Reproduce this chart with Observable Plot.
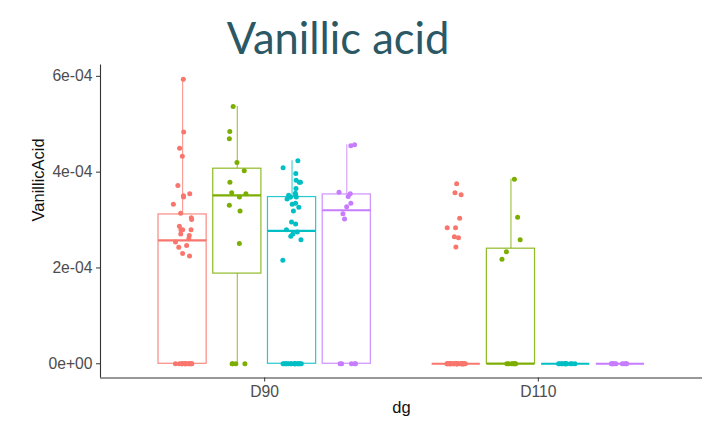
<!DOCTYPE html>
<html><head><meta charset="utf-8">
<script src="https://cdn.jsdelivr.net/npm/d3@7"></script>
<script src="https://cdn.jsdelivr.net/npm/@observablehq/plot@0.6"></script>
<style>
body{margin:0;background:#fff;}
#title{height:60px;box-sizing:border-box;padding-top:16.4px;line-height:43.5px;font-family:Lato,"Open Sans",sans-serif;font-size:43.5px;color:#2B5865;width:676px;text-align:center;white-space:nowrap;}
</style></head><body>
<div id="title">Vanillic acid</div>
<div id="chart"></div>
<script>
// categories
const dgLevels = ["D90", "D110"];
const groupLevels = ["A", "B", "C", "D"];
const groupColors = ["#F8766D", "#7CAE00", "#00BFC4", "#C77CFF"];
// y tick labels
const yTicks = [0, 2e-4, 4e-4, 6e-4];
const yTickLabels = ["0e+00", "2e-04", "4e-04", "6e-04"];
const xLabel = "dg";
const yLabel = "VanillicAcid";

// series values
const D90_A = [5.94e-4, 4.84e-4, 4.50e-4, 4.33e-4, 3.72e-4, 3.55e-4, 3.51e-4, 3.48e-4, 3.33e-4, 3.14e-4, 3.05e-4, 3.01e-4,
  2.87e-4, 2.80e-4, 2.80e-4, 2.80e-4, 2.71e-4, 2.68e-4, 2.61e-4, 2.54e-4, 2.47e-4, 2.43e-4, 2.30e-4, 2.25e-4,
  0, 0, 0, 0, 0, 0, 0, 0, 0, 0, 0, 0, 0, 0];
const D90_B = [5.37e-4, 4.85e-4, 4.70e-4, 4.20e-4, 4.03e-4, 3.79e-4, 3.57e-4, 3.55e-4, 3.48e-4, 3.31e-4, 3.19e-4, 2.51e-4,
  0, 0, 0, 0];
const D90_C = [4.24e-4, 4.09e-4, 3.97e-4, 3.83e-4, 3.79e-4, 3.79e-4, 3.66e-4, 3.56e-4, 3.52e-4, 3.52e-4, 3.48e-4, 3.48e-4,
  3.48e-4, 3.44e-4, 3.35e-4, 3.33e-4, 3.27e-4, 3.19e-4, 2.96e-4, 2.92e-4, 2.80e-4, 2.75e-4, 2.71e-4, 2.66e-4, 2.59e-4, 2.16e-4,
  0, 0, 0, 0, 0, 0, 0, 0, 0, 0, 0, 0, 0, 0, 0, 0];
const D90_D = [4.57e-4, 4.55e-4, 3.58e-4, 3.55e-4, 3.49e-4, 3.35e-4, 3.28e-4, 3.13e-4, 3.02e-4, 0, 0, 0, 0, 0];
const D110_A = [3.76e-4, 3.57e-4, 3.53e-4, 3.04e-4, 2.84e-4, 2.84e-4, 2.65e-4, 2.63e-4, 2.44e-4,
  0, 0, 0, 0, 0, 0, 0, 0, 0, 0, 0, 0, 0, 0, 0, 0, 0, 0, 0, 0, 0, 0, 0, 0, 0, 0, 0, 0, 0, 0];
const D110_B = [3.85e-4, 3.06e-4, 2.59e-4, 2.34e-4, 2.18e-4, 0, 0, 0, 0, 0, 0, 0];
const D110_C = [0, 0, 0, 0, 0, 0, 0, 0, 0, 0, 0, 0];
const D110_D = [0, 0, 0, 0, 0, 0, 0, 0, 0, 0];

const seriesTable = [
  ["D90", "A", D90_A], ["D90", "B", D90_B], ["D90", "C", D90_C], ["D90", "D", D90_D],
  ["D110", "A", D110_A], ["D110", "B", D110_B], ["D110", "C", D110_C], ["D110", "D", D110_D]
];

// dodge layout (in x-scale units)
const groupStep = 5, halfBox = 0.44, jitterW = 0.17;
const center = (dg, g) => dgLevels.indexOf(dg) * groupStep + (groupLevels.indexOf(g) - (groupLevels.length - 1) / 2);

const rand = d3.randomLcg(0.3141);
const points = [];
const stats = [];
for (const [dg, g, vals] of seriesTable) {
  const cx = center(dg, g);
  const s = vals.slice().sort(d3.ascending);
  const q1 = d3.quantileSorted(s, 0.25), med = d3.quantileSorted(s, 0.5), q3 = d3.quantileSorted(s, 0.75);
  const iqr = q3 - q1;
  const lo = d3.min(s.filter(v => v >= q1 - 1.5 * iqr));
  const hi = d3.max(s.filter(v => v <= q3 + 1.5 * iqr));
  stats.push({dg, group: g, cx, x1: cx - halfBox, x2: cx + halfBox, q1, med, q3, lo, hi});
  for (const v of vals) points.push({dg, group: g, value: v, jx: cx + (rand() * 2 - 1) * jitterW});
}

const yMax = d3.max(points, d => d.value);
const yDomain = [-0.05 * yMax, 1.05 * yMax];
const xDomain = [-0.6 * groupStep, (dgLevels.length - 1 + 0.6) * groupStep];

const chart = Plot.plot({
  width: 705,
  height: 366,
  marginLeft: 100,
  marginRight: 3,
  marginTop: 4.5,
  marginBottom: 48.5,
  style: {fontFamily: "'Liberation Sans', Arial, sans-serif", fontSize: "15.7px", background: "white"},
  x: {type: "linear", domain: xDomain, axis: null},
  y: {type: "linear", domain: yDomain, axis: null},
  color: {domain: groupLevels, range: groupColors},
  marks: [
    Plot.ruleX(stats, {x: "cx", y1: "q3", y2: "hi", stroke: "group", strokeWidth: 1.2, strokeOpacity: 0.7}),
    Plot.ruleX(stats, {x: "cx", y1: "lo", y2: "q1", stroke: "group", strokeWidth: 1.2, strokeOpacity: 0.7}),
    Plot.rect(stats, {x1: "x1", x2: "x2", y1: "q1", y2: "q3", fill: "white", stroke: "group", strokeWidth: 1.2, strokeOpacity: 0.85}),
    Plot.ruleY(stats, {x1: "x1", x2: "x2", y: "med", stroke: "group", strokeWidth: 2.2}),
    Plot.dot(points, {x: "jx", y: "value", fill: "group", r: 2.5}),
    Plot.ruleY([yDomain[0]], {stroke: "#333", strokeWidth: 1.1}),
    Plot.ruleX([xDomain[0]], {stroke: "#333", strokeWidth: 1.1}),
    Plot.axisY({ticks: yTicks, tickFormat: d => yTickLabels[yTicks.indexOf(d)], tickSize: 4, tickPadding: 4,
      label: null, stroke: "#333", fill: "#4D4D4D", fontSize: 15.7}),
    Plot.axisX({ticks: dgLevels.map((d, i) => i * groupStep), tickFormat: d => dgLevels[Math.round(d / groupStep)],
      tickSize: 4, tickPadding: 4, label: null, stroke: "#333", fill: "#4D4D4D", fontSize: 15.7}),
    Plot.text([yLabel], {text: d => d, frameAnchor: "left", rotate: -90, dx: -62, fontSize: 16.5, fill: "#111"}),
    Plot.text([xLabel], {text: d => d, frameAnchor: "bottom", dy: 35.4, fontSize: 16.5, fill: "#111"})
  ]
});
document.getElementById("chart").appendChild(chart);
</script>
</body></html>
